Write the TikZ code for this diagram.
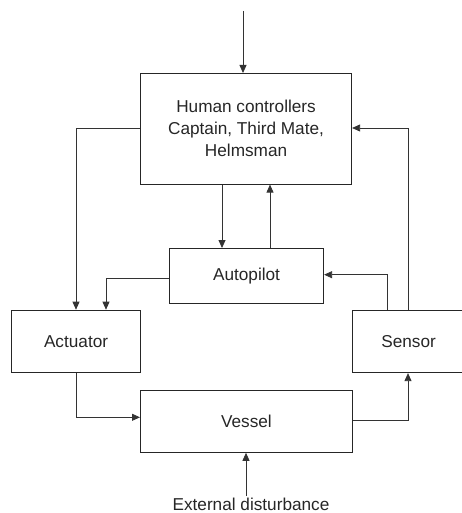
\documentclass[tikz,border=0pt]{standalone}
\usepackage{fontspec}
\setmainfont{Liberation Sans}
\usetikzlibrary{arrows.meta}
\begin{document}
\begin{tikzpicture}[x=1pt,y=-1pt,
  block/.style={draw=black!85,line width=1.1pt,minimum width=#1,inner sep=0pt,anchor=north west,
    font=\fontsize{17.2}{22}\selectfont,text=black!85,align=center},
  link/.style={draw=black!80,line width=0.8pt,-{Triangle[length=8pt,width=7pt]}},
  wire/.style={draw=black!80,line width=0.8pt}]
\useasboundingbox (0,0) rectangle (461,513);
\node[block=211pt,minimum height=110.5pt] (hc) at (140,73) {Human controllers\\Captain, Third Mate,\\Helmsman};
\node[block=154pt,minimum height=55pt] (ap) at (169,248) {Autopilot};
\node[block=129pt,minimum height=62.3pt] (act) at (11,309.7) {Actuator};
\node[block=112pt,minimum height=62.3pt] (sen) at (352,309.7) {Sensor};
\node[block=211.7pt,minimum height=61.7pt] (ves) at (140,390) {Vessel};
\coordinate (top) at (243,11);
\node[font=\fontsize{17.2}{22}\selectfont,text=black!85,anchor=base,inner sep=0pt] (ext) at (251,510) {External disturbance};
\coordinate (extend) at (246,495.7);
% command input from above
\draw[link] (top) -- (top |- hc.north);
% human controllers to actuator and autopilot
\draw[link] (hc.west |- 0,128) -| (76,0 |- act.north);
\draw[link] (222,0 |- hc.south) -- (222,0 |- ap.north);
\draw[link] (270,0 |- ap.north) -- (270,0 |- hc.south);
% autopilot to actuator
\draw[link] (ap.west |- 0,278.7) -| (106,0 |- act.north);
% sensor feedback
\draw[link] (387,0 |- sen.north) |- (ap.east |- 0,274.7);
\draw[link] (408,0 |- sen.north) |- (hc.east |- 0,128);
% actuator drives the vessel, vessel is sensed
\draw[link] (act.south) |- (ves.west |- 0,417.3);
\draw[link] (ves.east |- 0,420.7) -| (408,0 |- sen.south);
% disturbance
\draw[link] (extend) -- (extend |- ves.south);
\end{tikzpicture}
\end{document}
